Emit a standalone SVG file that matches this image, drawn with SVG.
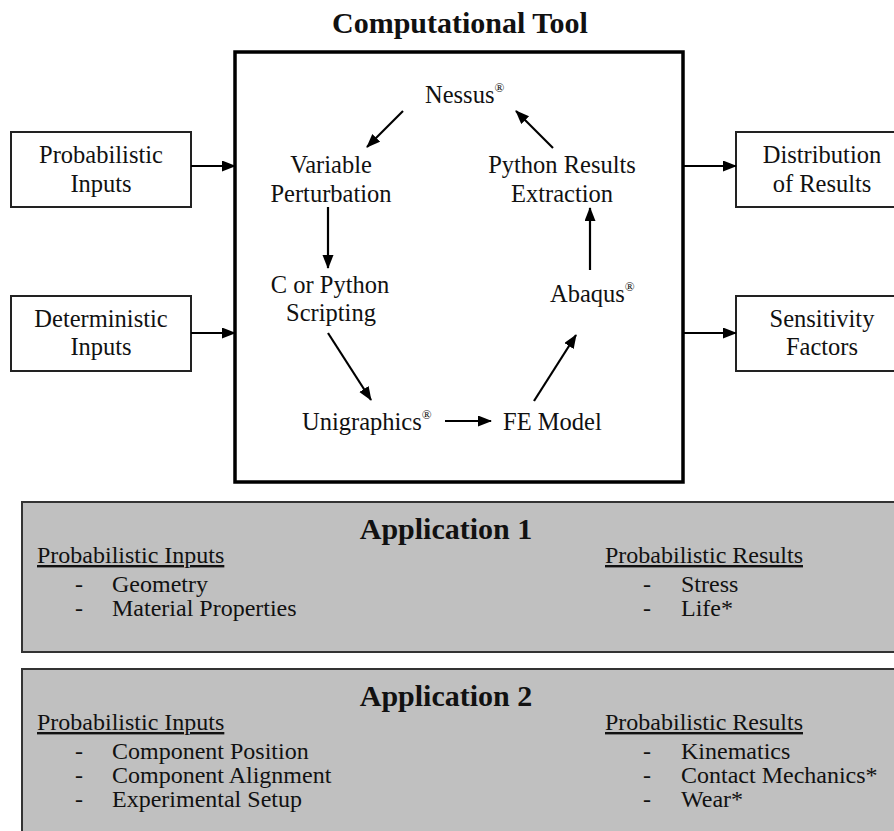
<svg xmlns="http://www.w3.org/2000/svg" width="894" height="831" viewBox="0 0 894 831">
<style>
text{font-family:"Liberation Serif","Times New Roman",serif;fill:#111;}
.t{font-size:24.5px;}
.c{text-anchor:middle;}
.h{font-size:30px;font-weight:bold;text-anchor:middle;}
.a{font-size:24px;}
.u{text-decoration:underline;}
.sup{font-size:13px;}
.box{fill:#fff;stroke:#222;stroke-width:2;}
.main{fill:#fff;stroke:#000;stroke-width:3.5;}
.app{fill:#c0c0c0;stroke:#333;stroke-width:2;}
.conn line{stroke:#000;stroke-width:2.2;marker-end:url(#ah);}
</style>
<defs>
<marker id="ah" markerUnits="userSpaceOnUse" markerWidth="14" markerHeight="12" refX="13" refY="5.5" orient="auto">
<path d="M0,0 L14,5.5 L0,11 z" fill="#000"/>
</marker>
</defs>
<text class="h" x="460" y="33">Computational Tool</text>
<g id="tool"><rect class="main" x="235" y="52" width="448" height="430"/></g>
<g id="prob-inputs"><rect class="box" x="11" y="132" width="180" height="75"/>
<text class="t c" x="101" y="163">Probabilistic</text><text class="t c" x="101" y="192">Inputs</text></g>
<g id="det-inputs"><rect class="box" x="11" y="296" width="180" height="75"/>
<text class="t c" x="101" y="327">Deterministic</text><text class="t c" x="101" y="355">Inputs</text></g>
<g id="distribution"><rect class="box" x="736" y="132" width="172" height="75"/>
<text class="t c" x="822" y="163">Distribution</text><text class="t c" x="822" y="192">of Results</text></g>
<g id="sensitivity"><rect class="box" x="736" y="296" width="172" height="75"/>
<text class="t c" x="822" y="327">Sensitivity</text><text class="t c" x="822" y="355">Factors</text></g>
<g id="nessus"><text class="t" x="425" y="103">Nessus<tspan class="sup" dy="-11">®</tspan></text></g>
<g id="variable"><text class="t c" x="331" y="173">Variable</text><text class="t c" x="331" y="202">Perturbation</text></g>
<g id="python"><text class="t c" x="562" y="173">Python Results</text><text class="t c" x="562" y="202">Extraction</text></g>
<g id="scripting"><text class="t c" x="330" y="293">C or Python</text><text class="t c" x="331" y="321">Scripting</text></g>
<g id="abaqus"><text class="t" x="550" y="302">Abaqus<tspan class="sup" dy="-11">®</tspan></text></g>
<g id="unigraphics"><text class="t" x="302" y="430">Unigraphics<tspan class="sup" dy="-11">®</tspan></text></g>
<g id="fe"><text class="t" x="503" y="430">FE Model</text></g>
<g class="conn" id="connectors">
<line x1="191" y1="166" x2="235" y2="166"/>
<line x1="191" y1="333" x2="235" y2="333"/>
<line x1="683" y1="166" x2="736" y2="166"/>
<line x1="683" y1="333" x2="736" y2="333"/>
<line x1="403" y1="111" x2="367" y2="147"/>
<line x1="328" y1="207" x2="328" y2="268"/>
<line x1="328" y1="333" x2="371" y2="400"/>
<line x1="445" y1="421" x2="491" y2="421"/>
<line x1="534" y1="401" x2="576" y2="335"/>
<line x1="590" y1="270" x2="590" y2="208"/>
<line x1="553" y1="148" x2="516" y2="111"/>
</g>
<g id="app1"><rect class="app" x="22" y="502" width="880" height="150"/>
<text class="h" x="446" y="539">Application 1</text>
<text class="a u" x="37" y="563">Probabilistic Inputs</text>
<text class="a" x="75" y="592">-</text><text class="a" x="112" y="592">Geometry</text>
<text class="a" x="75" y="616">-</text><text class="a" x="112" y="616">Material Properties</text>
<text class="a u" x="605" y="563">Probabilistic Results</text>
<text class="a" x="643" y="592">-</text><text class="a" x="681" y="592">Stress</text>
<text class="a" x="643" y="616">-</text><text class="a" x="681" y="616">Life*</text>
</g>
<g id="app2"><rect class="app" x="22" y="669" width="880" height="180"/>
<text class="h" x="446" y="706">Application 2</text>
<text class="a u" x="37" y="730">Probabilistic Inputs</text>
<text class="a" x="75" y="759">-</text><text class="a" x="112" y="759">Component Position</text>
<text class="a" x="75" y="783">-</text><text class="a" x="112" y="783">Component Alignment</text>
<text class="a" x="75" y="807">-</text><text class="a" x="112" y="807">Experimental Setup</text>
<text class="a u" x="605" y="730">Probabilistic Results</text>
<text class="a" x="643" y="759">-</text><text class="a" x="681" y="759">Kinematics</text>
<text class="a" x="643" y="783">-</text><text class="a" x="681" y="783">Contact Mechanics*</text>
<text class="a" x="643" y="807">-</text><text class="a" x="681" y="807">Wear*</text>
</g>
</svg>
